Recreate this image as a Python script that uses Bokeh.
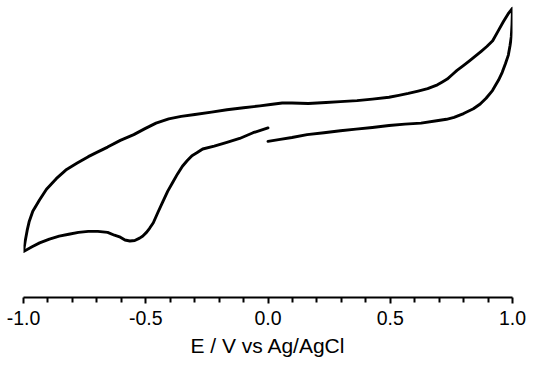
from bokeh.plotting import figure
from bokeh.models import Range1d, FixedTicker, PrintfTickFormatter, ColumnDataSource
from bokeh.embed import file_html
from bokeh.resources import INLINE

# Potential (V vs Ag/AgCl): scan starts at 0.0 V, goes to +1.0 V,
# reverses to -1.0 V, then returns towards 0.0 V
potential = [
    0.000, 0.050, 0.098, 0.160, 0.229, 0.296, 0.360, 0.427, 0.495, 0.560,
    0.626, 0.690, 0.730, 0.761, 0.800, 0.840, 0.868, 0.892, 0.918, 0.943,
    0.958, 0.971, 0.983, 0.990, 0.995, 0.998, 1.000,
    0.982, 0.963, 0.941, 0.919, 0.895, 0.872, 0.848, 0.824, 0.799, 0.773,
    0.753, 0.733, 0.713, 0.693, 0.653, 0.614, 0.574, 0.535, 0.495, 0.427,
    0.364, 0.296, 0.237, 0.165, 0.098, 0.058, 0.010, -0.033, -0.100,
    -0.168, -0.231, -0.299, -0.355, -0.406, -0.458, -0.505, -0.549, -0.604,
    -0.656, -0.696, -0.735, -0.782, -0.827, -0.866, -0.906, -0.934, -0.962,
    -0.977, -0.985, -0.993, -1.000,
    -0.965, -0.934, -0.894, -0.854, -0.815, -0.775, -0.735, -0.696, -0.656,
    -0.628, -0.604, -0.585, -0.565, -0.545, -0.525, -0.513, -0.497, -0.485,
    -0.469, -0.450, -0.430, -0.410, -0.390, -0.370, -0.350, -0.330, -0.311,
    -0.291, -0.267, -0.220, -0.168, -0.116, -0.061, 0.000,
]
# Current (arbitrary units)
current = [
    8.30, 8.50, 8.70, 9.00, 9.20, 9.40, 9.57, 9.75, 9.95, 10.10,
    10.20, 10.45, 10.60, 10.80, 11.20, 11.70, 12.20, 12.80, 13.60, 14.70,
    15.50, 16.40, 17.30, 18.30, 19.20, 20.50, 22.20,
    21.60, 20.80, 19.80, 18.80, 18.20, 17.70, 17.20, 16.70, 16.20, 15.70,
    15.25, 14.80, 14.50, 14.20, 13.80, 13.55, 13.30, 13.10, 12.90, 12.70,
    12.55, 12.45, 12.35, 12.25, 12.30, 12.30, 12.15, 12.00, 11.80,
    11.60, 11.35, 11.10, 10.90, 10.65, 10.20, 9.60, 9.00, 8.40,
    7.70, 7.20, 6.70, 6.00, 5.30, 4.40, 3.30, 2.20, 1.00,
    -0.10, -1.00, -2.10, -3.20,
    -2.70, -2.30, -1.90, -1.60, -1.40, -1.20, -1.10, -1.10, -1.20,
    -1.50, -1.70, -2.00, -2.10, -2.05, -1.80, -1.60, -1.20, -0.80,
    -0.20, 0.90, 2.00, 3.10, 4.00, 4.90, 5.70, 6.30, 6.80,
    7.10, 7.50, 7.80, 8.20, 8.60, 9.20, 9.70,
]

major_ticks = [-1.0, -0.5, 0.0, 0.5, 1.0]
minor_ticks = [-0.9, -0.8, -0.7, -0.6, -0.4, -0.3, -0.2, -0.1,
               0.1, 0.2, 0.3, 0.4, 0.6, 0.7, 0.8, 0.9]
x_label = "E / V vs Ag/AgCl"

src = ColumnDataSource(data=dict(E=potential, I=current))

p = figure(
    width=534, height=367,
    x_range=Range1d(-1.0, 1.0), y_range=Range1d(-8.0, 23.0),
    min_border_left=23, min_border_right=22,
    min_border_top=0, min_border_bottom=70,
    y_axis_location=None,
    toolbar_location=None, output_backend="svg",
)
p.outline_line_color = None
p.xgrid.visible = False
p.ygrid.visible = False
p.background_fill_color = "white"
p.border_fill_color = "white"

p.line("E", "I", source=src, line_color="black", line_width=2.9,
       line_join="round", line_cap="round")

ax = p.xaxis[0]
ax.ticker = FixedTicker(ticks=major_ticks, minor_ticks=minor_ticks)
ax.formatter = PrintfTickFormatter(format="%.1f")
ax.axis_label = x_label
ax.axis_line_width = 2
ax.axis_line_color = "black"
ax.major_tick_line_width = 2
ax.minor_tick_line_width = 2
ax.major_tick_line_color = "black"
ax.minor_tick_line_color = "black"
ax.major_tick_in = 0
ax.major_tick_out = 6
ax.minor_tick_in = 0
ax.minor_tick_out = 5
ax.major_label_text_font = "Liberation Sans"
ax.major_label_text_font_size = "19.5px"
ax.major_label_text_color = "black"
ax.major_label_standoff = 7
ax.axis_label_text_font = "Liberation Sans"
ax.axis_label_text_font_size = "21px"
ax.axis_label_text_font_style = "normal"
ax.axis_label_text_color = "black"
ax.axis_label_standoff = 6

open("out.html", "w").write(file_html(p, INLINE))
